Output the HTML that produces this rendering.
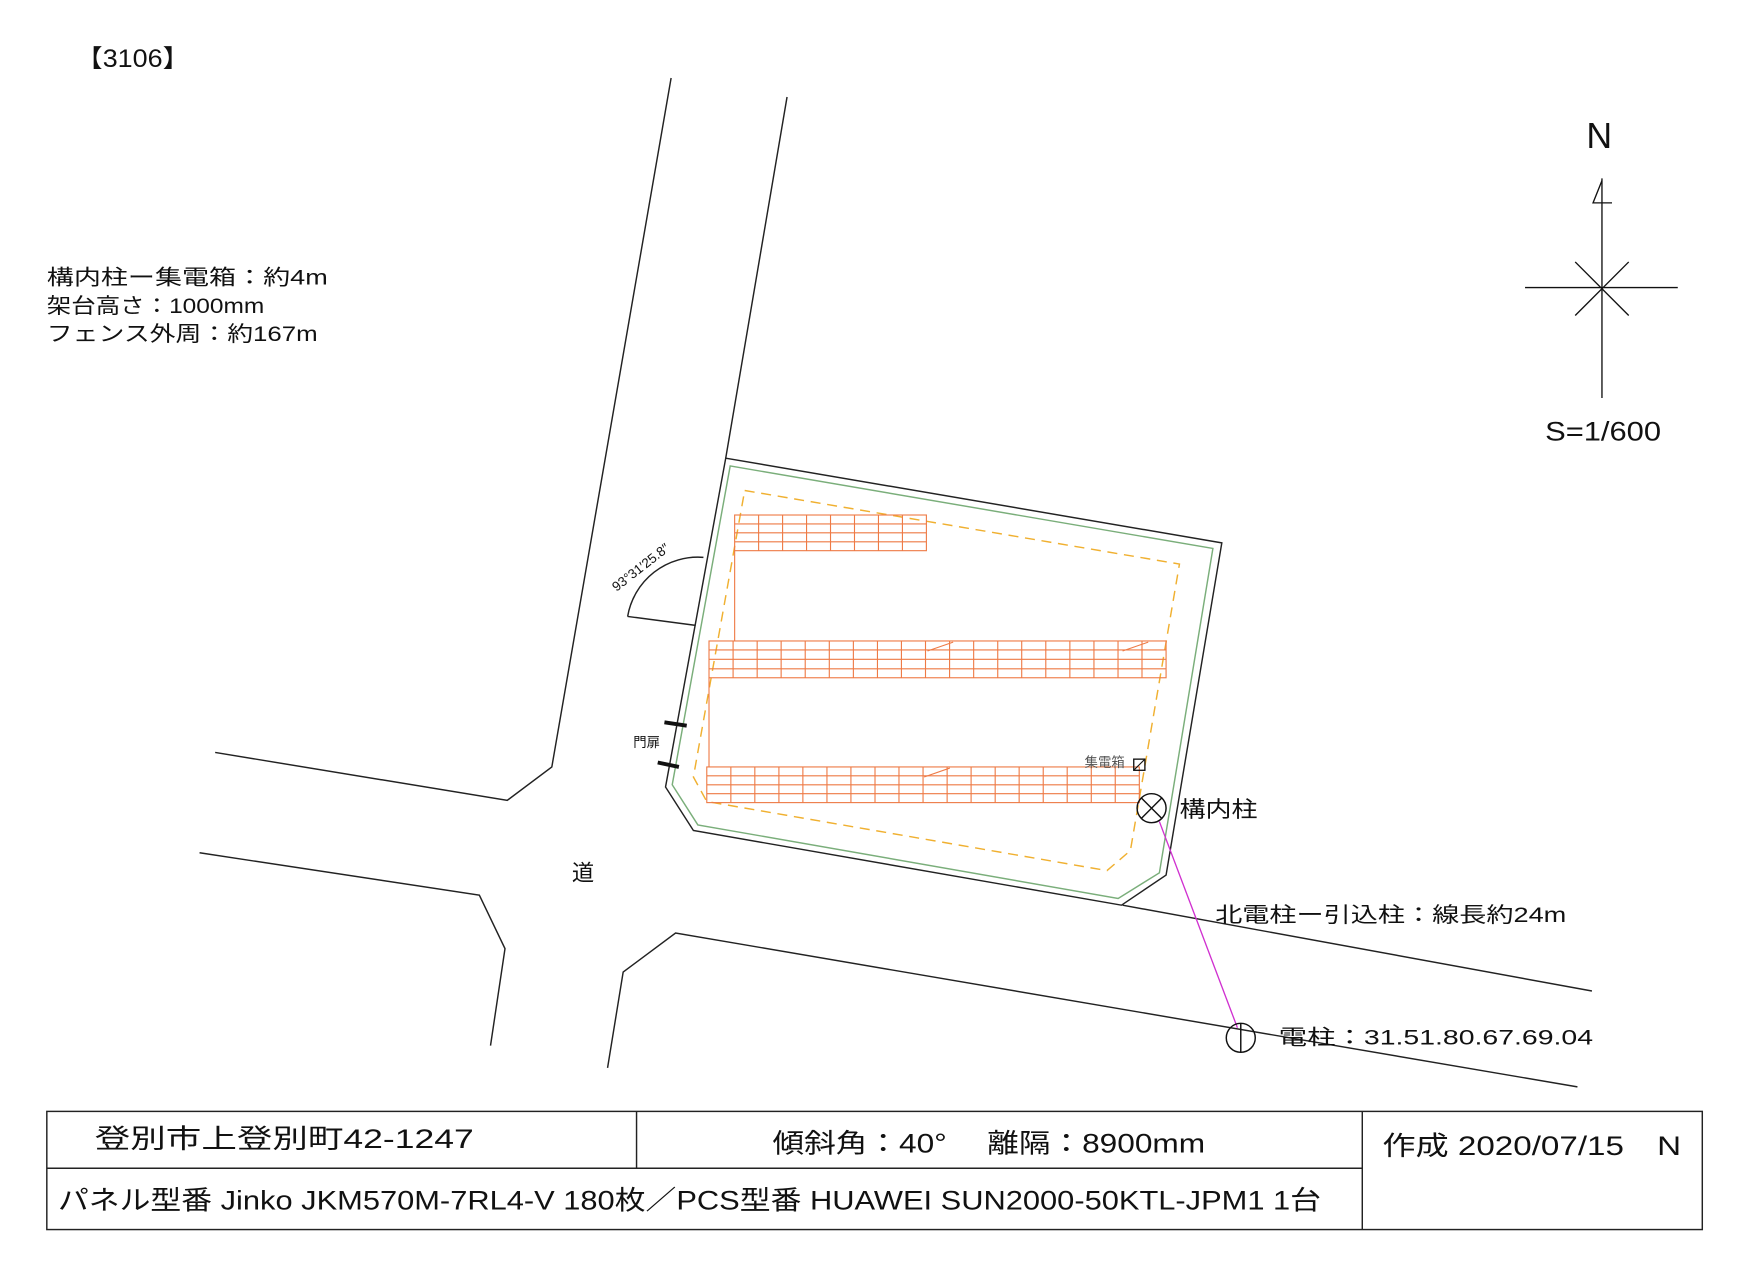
<!DOCTYPE html>
<html><head><meta charset="utf-8"><style>
html,body{margin:0;padding:0;background:#fff;}
svg{display:block;}
text{font-family:"Liberation Sans","Noto Sans CJK JP",sans-serif;fill:#111;}
</style></head><body>
<svg width="1748" height="1263" viewBox="0 0 1568 1133" preserveAspectRatio="none" xmlns="http://www.w3.org/2000/svg">
<rect x="0" y="0" width="1568" height="1133" fill="#fff"/>
<text x="68" y="60" font-size="22" textLength="102" lengthAdjust="spacingAndGlyphs">【3106】</text>
<text x="42" y="255" font-size="19" textLength="252" lengthAdjust="spacingAndGlyphs">構内柱ー集電箱：約4m</text>
<text x="42" y="281" font-size="19" textLength="195" lengthAdjust="spacingAndGlyphs">架台高さ：1000mm</text>
<text x="42" y="306" font-size="19" textLength="243" lengthAdjust="spacingAndGlyphs">フェンス外周：約167m</text>

<g stroke="#222" stroke-width="1.3" fill="none">
<polyline points="602,70 495,688 455,718 193,675"/>
<line x1="706" y1="87" x2="651" y2="411"/>
<polyline points="179,765 430,803 453,851 440,938"/>
<polyline points="545,958 559,872 606,837 1415,975"/>
<line x1="1007" y1="812" x2="1428" y2="889"/>
<polygon points="651,411 1096,487 1046,785 1006,812 622,745 597,706"/>
<line x1="563" y1="553" x2="624" y2="561"/>
<path d="M563,553 A64,64 0 0 1 631,500"/>
</g>
<polygon points="655,418 1088,492 1040,783 1003,806 626,740 603,704" fill="none" stroke="#7aae7a" stroke-width="1.3"/>
<polygon points="668,440 1058,506 1014,763 993,781 634,719 622,697" fill="none" stroke="#f0b030" stroke-width="1.3" stroke-dasharray="9,6"/>

<g stroke="#ee7a45" stroke-width="1" fill="none">
<rect x="659" y="462" width="172" height="32"/>
<line x1="659" y1="470" x2="831" y2="470"/><line x1="659" y1="478" x2="831" y2="478"/><line x1="659" y1="486" x2="831" y2="486"/>
<line x1="680.5" y1="462" x2="680.5" y2="494"/><line x1="702" y1="462" x2="702" y2="494"/><line x1="723.5" y1="462" x2="723.5" y2="494"/><line x1="745" y1="462" x2="745" y2="494"/><line x1="766.5" y1="462" x2="766.5" y2="494"/><line x1="788" y1="462" x2="788" y2="494"/><line x1="809.5" y1="462" x2="809.5" y2="494"/>
<line x1="659" y1="494" x2="659" y2="575"/>
<rect x="636" y="575" width="410" height="33"/>
<line x1="636" y1="583" x2="1046" y2="583"/><line x1="636" y1="591.5" x2="1046" y2="591.5"/><line x1="636" y1="600" x2="1046" y2="600"/>
<path d="M657.6,575V608M679.2,575V608M700.7,575V608M722.3,575V608M743.9,575V608M765.5,575V608M787.1,575V608M808.6,575V608M830.2,575V608M851.8,575V608M873.4,575V608M895,575V608M916.5,575V608M938.1,575V608M959.7,575V608M981.3,575V608M1002.9,575V608M1024.4,575V608"/>
<line x1="636" y1="608" x2="636" y2="688"/>
<rect x="634" y="688" width="388" height="32"/>
<line x1="634" y1="696" x2="1022" y2="696"/><line x1="634" y1="704" x2="1022" y2="704"/><line x1="634" y1="712" x2="1022" y2="712"/>
<path d="M655.6,688V720M677.1,688V720M698.7,688V720M720.2,688V720M741.8,688V720M763.3,688V720M784.9,688V720M806.4,688V720M828,688V720M849.6,688V720M871.1,688V720M892.7,688V720M914.2,688V720M935.8,688V720M957.3,688V720M978.9,688V720M1000.4,688V720"/>
<line x1="832" y1="584" x2="855" y2="576"/><line x1="1007" y1="584" x2="1030" y2="576"/><line x1="829" y1="697" x2="852" y2="689"/>
</g>

<text x="0" y="0" font-size="12" transform="translate(553,531) rotate(-38)">93°31′25.8″</text>
<g stroke="#111" stroke-width="3.5"><line x1="596" y1="648" x2="616" y2="651"/><line x1="590" y1="684" x2="609" y2="688"/></g>
<text x="568" y="670" font-size="12">門扉</text>
<text x="973" y="688" font-size="12" style="fill:#555">集電箱</text>
<rect x="1017" y="681" width="10" height="10" fill="none" stroke="#111" stroke-width="1.2"/>
<line x1="1017" y1="691" x2="1027" y2="681" stroke="#111"/>
<line x1="1040" y1="737" x2="1110" y2="922" stroke="#d030d0" stroke-width="1.2"/>
<g stroke="#111" stroke-width="1.3" fill="none">
<circle cx="1033" cy="725" r="13"/><line x1="1024" y1="716" x2="1042" y2="734"/><line x1="1042" y1="716" x2="1024" y2="734"/>
<circle cx="1113" cy="931" r="13"/><line x1="1113" y1="918" x2="1113" y2="944"/>
</g>
<text x="1058" y="733" font-size="20" textLength="70" lengthAdjust="spacingAndGlyphs">構内柱</text>
<text x="1090" y="827" font-size="19" textLength="315" lengthAdjust="spacingAndGlyphs">北電柱ー引込柱：線長約24m</text>
<text x="1147" y="937" font-size="19" textLength="282" lengthAdjust="spacingAndGlyphs">電柱：31.51.80.67.69.04</text>
<text x="513" y="790" font-size="20">道</text>

<text x="1423" y="133" font-size="32">N</text>
<g stroke="#111" stroke-width="1.2" fill="none">
<line x1="1437" y1="160" x2="1437" y2="357"/>
<line x1="1368" y1="258" x2="1505" y2="258"/>
<line x1="1413" y1="235" x2="1461" y2="283"/><line x1="1461" y1="235" x2="1413" y2="283"/>
<polyline points="1437,162 1429,182 1446,182"/>
</g>
<text x="1386" y="395" font-size="24" textLength="104" lengthAdjust="spacingAndGlyphs">S=1/600</text>

<g stroke="#222" stroke-width="1.3" fill="none">
<rect x="42" y="997" width="1485" height="106"/>
<line x1="1222" y1="997" x2="1222" y2="1103"/>
<line x1="42" y1="1048" x2="1222" y2="1048"/>
<line x1="571" y1="997" x2="571" y2="1048"/>
</g>
<text x="85" y="1030" font-size="24" textLength="340" lengthAdjust="spacingAndGlyphs">登別市上登別町42-1247</text>
<text x="693" y="1034" font-size="24" textLength="388" lengthAdjust="spacingAndGlyphs">傾斜角：40°　 離隔：8900mm</text>
<text x="1240" y="1036" font-size="24" textLength="268" lengthAdjust="spacingAndGlyphs">作成 2020/07/15　N</text>
<text x="52" y="1085" font-size="24" textLength="1133" lengthAdjust="spacingAndGlyphs">パネル型番 Jinko JKM570M-7RL4-V 180枚／PCS型番 HUAWEI SUN2000-50KTL-JPM1 1台</text>
</svg>
</body></html>
